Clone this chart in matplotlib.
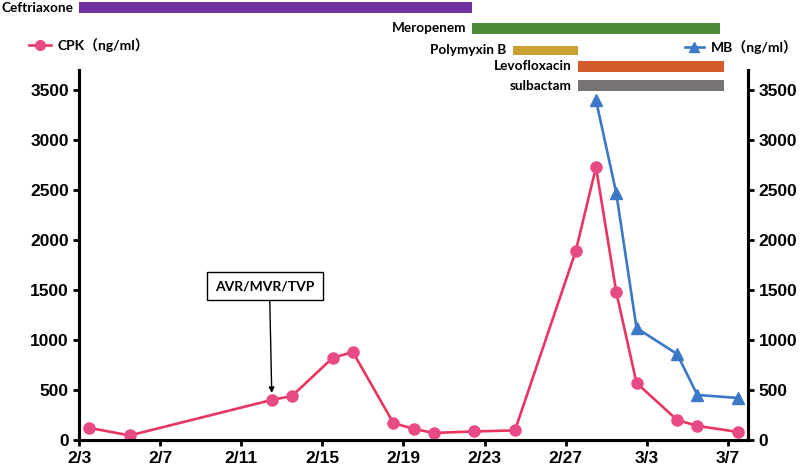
import matplotlib
matplotlib.use("Agg")
import matplotlib.pyplot as plt
import matplotlib.transforms as mtransforms
from matplotlib.patches import Rectangle
from matplotlib.lines import Line2D
from datetime import datetime

# data
cpk_dates = ['2/3', '2/5', '2/12', '2/13', '2/15', '2/16', '2/18', '2/19', '2/20',
             '2/22', '2/24', '2/27', '2/28', '3/1', '3/2', '3/4', '3/5', '3/7']
cpk_values = [120, 45, 400, 440, 820, 880, 170, 110, 70,
              85, 95, 1890, 2730, 1480, 570, 200, 140, 80]
mb_dates = ['2/28', '3/1', '3/2', '3/4', '3/5', '3/7']
mb_values = [3400, 2470, 1120, 860, 450, 420]
tick_labels = ['2/3', '2/7', '2/11', '2/15', '2/19', '2/23', '2/27', '3/3', '3/7']
drugs = ['Ceftriaxone', 'Meropenem', 'Polymyxin B', 'Levofloxacin', 'sulbactam']
drug_start = [0, 19.4, 21.4, 24.6, 24.6]
drug_end = [19.4, 31.6, 24.6, 31.8, 31.8]
drug_colors = ['#7030a0', '#4f8a3a', '#c9a031', '#d35c2a', '#777373']

start = datetime(2023, 2, 3)
def day_pos(s):
    m, d = s.split('/')
    return (datetime(2023, int(m), int(d)) - start).days + 0.5

cpk_x = [day_pos(s) for s in cpk_dates]
mb_x = [day_pos(s) for s in mb_dates]

lab_font = ['Lato', 'Noto Sans CJK SC', 'DejaVu Sans']
tick_font = 'Liberation Sans'

fig = plt.figure(figsize=(8, 4.68), dpi=100)
ax = fig.add_axes([0.099, 0.06, 0.836, 0.79])
ax2 = ax.twinx()

pink_line = '#e8365f'
pink_mark = '#e84a86'
blue = '#3b78c8'

ax.plot(cpk_x, cpk_values, color=pink_line, lw=1.9, marker='o', ms=8,
        mfc=pink_mark, mec=pink_mark, zorder=3)
ax2.plot(mb_x, mb_values, color=blue, lw=1.9, marker='^', ms=8,
         mfc=blue, mec=blue, zorder=3)

for a in (ax, ax2):
    a.set_xlim(0, 33)
    a.set_ylim(0, 3700)
    a.set_yticks(range(0, 3501, 500))
    a.spines['top'].set_visible(False)
    for s in ('left', 'right', 'bottom'):
        a.spines[s].set_linewidth(2.2)
    a.tick_params(width=2, length=4, direction='out', labelsize=12.5)
    for t in a.get_yticklabels() + a.get_xticklabels():
        t.set_fontfamily(tick_font)
        t.set_fontweight('bold')

ax.set_xticks(range(0, 33, 4))
ax.set_xticklabels(tick_labels, fontfamily=tick_font, fontweight='bold', fontsize=12.5)
ax.tick_params(axis='x', pad=4)

# drug bars above the plot
trans = mtransforms.blended_transform_factory(ax.transData, fig.transFigure)
bar_top_px = [2, 23, 46, 61, 80]
bar_h_px = [11, 11, 9, 11, 11]
for i, name in enumerate(drugs):
    y0 = 1 - (bar_top_px[i] + bar_h_px[i]) / 468
    h = bar_h_px[i] / 468
    ax.add_patch(Rectangle((drug_start[i], y0), drug_end[i] - drug_start[i], h,
                           transform=trans, color=drug_colors[i], clip_on=False, lw=0))
    ax.text(drug_start[i] - 0.3, y0 + h / 2, name, transform=trans, ha='right',
            va='center', fontsize=9.8, fontweight='bold', family=lab_font)

# annotation
ax.annotate('AVR/MVR/TVP', xy=(9.5, 470), xytext=(9.15, 1540),
            ha='center', va='center', fontsize=10, fontweight='bold', family=lab_font,
            bbox=dict(boxstyle='square,pad=0.6', fc='white', ec='black', lw=1),
            arrowprops=dict(arrowstyle='-|>', color='black', lw=1, relpos=(0.55, 0),
                            mutation_scale=8, shrinkA=0, shrinkB=0))

# legends
h1 = Line2D([], [], color=pink_line, lw=1.9, marker='o', ms=7, mfc=pink_mark, mec=pink_mark)
h2 = Line2D([], [], color=blue, lw=1.9, marker='^', ms=7, mfc=blue, mec=blue)
leg1 = fig.legend([h1], ['CPK（ng/ml）'], loc='center left', bbox_to_anchor=(0.02, 1 - 45 / 468),
                  frameon=False, handlelength=1.6, handletextpad=0.5,
                  prop=dict(family=lab_font, weight='bold', size=10))
leg2 = fig.legend([h2], ['MB（ng/ml）'], loc='center left', bbox_to_anchor=(0.84, 1 - 47 / 468),
                  frameon=False, handlelength=1.4, handletextpad=0.5,
                  prop=dict(family=lab_font, weight='bold', size=10))

fig.savefig('out.png', dpi=100)
